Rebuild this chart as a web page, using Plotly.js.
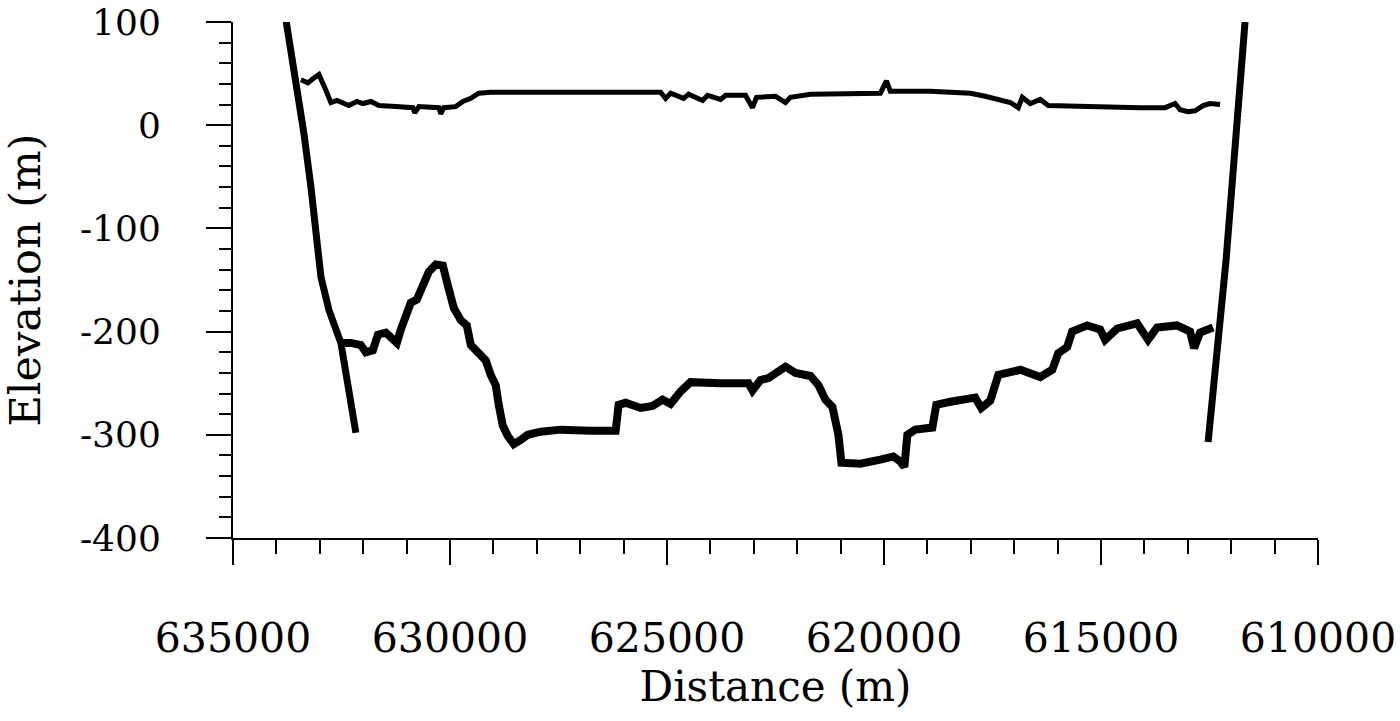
<!DOCTYPE html>
<html>
<head>
<meta charset="utf-8">
<script src="https://cdn.plot.ly/plotly-3.0.1.min.js"></script>
<style>
  body { margin: 0; background: #fff; }
  #chart { width: 1400px; height: 721px; }
</style>
</head>
<body>
<div id="chart"></div>
<script>
// Ice surface profile (distance m, elevation m)
const surfX = [633435, 633274, 633158, 633020, 632882, 632744, 632606, 632468, 632330, 632146,
    632007, 631823, 631639, 631248, 630856, 630810, 630718, 630258, 630212, 630143,
    629867, 629705, 629521, 629337, 629061, 627680, 626529, 625148, 625032, 624917,
    624618, 624503, 624180, 624065, 623766, 623651, 623191, 623030, 622938, 622500,
    622270, 622155, 621694, 620774, 620083, 619945, 619854, 618933, 618012, 617667,
    617320, 617090, 616906, 616814, 616630, 616400, 616216, 615480, 614789, 614099,
    613524, 613293, 613178, 612994, 612832, 612648, 612488, 612256];
const surfY = [44, 41, 45, 49, 36, 22, 24, 21, 19, 23,
    21, 23, 19, 18, 17, 12, 18, 17, 11, 17,
    18, 23, 26, 31, 32, 32, 32, 32, 26, 31,
    26, 30, 24, 29, 25, 29, 29, 17, 27, 28,
    22, 27, 30, 31, 31, 43, 33, 33, 31, 28,
    25, 22, 17, 27, 21, 25, 19, 18, 18, 17,
    17, 21, 15, 13, 14, 19, 21, 20];

// Bed profile
const bedX = [632514, 632284, 632054, 631938, 631777, 631662, 631478, 631317, 631225, 631133,
    631017, 630902, 630764, 630672, 630488, 630327, 630166, 630051, 629913, 629751,
    629613, 629521, 629337, 629176, 629061, 628946, 628877, 628785, 628670, 628531,
    628370, 628209, 627910, 627450, 626759, 626183, 626114, 625953, 625608, 625332,
    625102, 624917, 624687, 624457, 623766, 623122, 623030, 622846, 622662, 622385,
    622270, 622040, 621694, 621510, 621349, 621188, 621050, 620981, 620543, 620083,
    619784, 619623, 619531, 619462, 619278, 618886, 618795, 618472, 617897, 617758,
    617551, 617366, 616860, 616400, 616124, 615986, 615779, 615664, 615318, 615019,
    614904, 614628, 614168, 613915, 613708, 613247, 612947, 612855, 612717, 612418];
const bedY = [-211, -211, -213, -220, -218, -203, -201, -206, -211, -198,
    -184, -172, -169, -160, -142, -135, -136, -155, -177, -189,
    -194, -213, -220, -228, -242, -252, -271, -291, -301, -309,
    -305, -300, -297, -295, -296, -296, -271, -269, -274, -272,
    -266, -270, -258, -249, -250, -250, -257, -247, -245, -237,
    -234, -240, -243, -252, -266, -273, -300, -327, -328, -324,
    -321, -326, -331, -300, -295, -293, -271, -268, -264, -274,
    -267, -242, -237, -244, -237, -221, -215, -200, -194, -198,
    -208, -197, -192, -208, -196, -194, -200, -216, -201, -196];

// Valley walls
const leftWallX = [633780, 633550, 633366, 633204, 633090, 632974, 632790, 632514, 632169];
const leftWallY = [102, 44, -8, -60, -104, -147, -179, -211, -298];
const rightWallX = [611681, 612119, 612532];
const rightWallY = [100, -131, -307];

const xTicks = [635000, 630000, 625000, 620000, 615000, 610000];
const yTicks = [100, 0, -100, -200, -300, -400];

const serif = 'DejaVu Serif, Liberation Serif, serif';

const traces = [
    { x: surfX, y: surfY, type: 'scatter', mode: 'lines', line: { color: '#000', width: 5 } },
    { x: bedX, y: bedY, type: 'scatter', mode: 'lines', line: { color: '#000', width: 8 } },
    { x: leftWallX, y: leftWallY, type: 'scatter', mode: 'lines', line: { color: '#000', width: 7 } },
    { x: rightWallX, y: rightWallY, type: 'scatter', mode: 'lines', line: { color: '#000', width: 7 } }
];

const layout = {
    width: 1400,
    height: 721,
    margin: { l: 233, r: 82, t: 22, b: 183 },
    paper_bgcolor: '#fff',
    plot_bgcolor: '#fff',
    showlegend: false,
    xaxis: {
        range: [635000, 610000],
        tickvals: xTicks,
        ticktext: xTicks.map(String),
        ticks: 'outside', ticklen: 25, tickwidth: 2, tickcolor: '#000',
        minor: { dtick: 1000, ticks: 'outside', ticklen: 14, tickwidth: 2, tickcolor: '#000' },
        showline: true, linewidth: 2, linecolor: '#000',
        showgrid: false, zeroline: false,
        ticklabelstandoff: 38,
        tickfont: { family: serif, size: 41, color: '#000' },
        title: { text: 'Distance (m)', font: { family: serif, size: 42, color: '#000' }, standoff: 6 }
    },
    yaxis: {
        range: [-400, 100],
        tickvals: yTicks,
        ticktext: yTicks.map(String),
        ticks: 'outside', ticklen: 25, tickwidth: 2, tickcolor: '#000',
        minor: { dtick: 20, ticks: 'outside', ticklen: 12, tickwidth: 2, tickcolor: '#000' },
        showline: true, linewidth: 2, linecolor: '#000',
        showgrid: false, zeroline: false,
        ticklabelstandoff: 38,
        tickfont: { family: serif, size: 36, color: '#000' },
        title: { text: 'Elevation (m)', font: { family: serif, size: 43, color: '#000' }, standoff: 26 }
    }
};

Plotly.newPlot('chart', traces, layout, { staticPlot: true });
</script>
</body>
</html>
